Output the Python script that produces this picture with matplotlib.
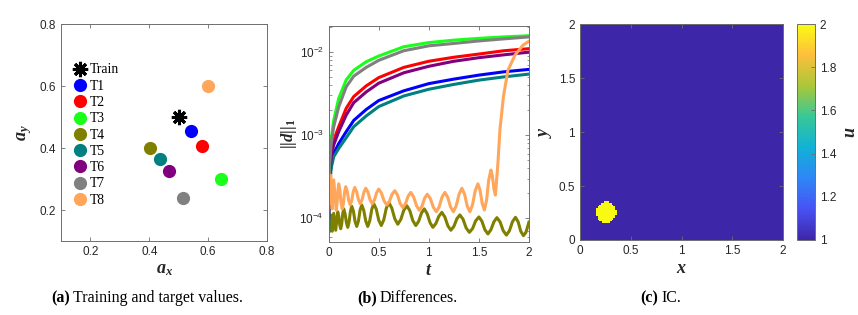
import matplotlib
matplotlib.use("Agg")
import matplotlib.pyplot as plt
import numpy as np
from matplotlib.colors import LinearSegmentedColormap

plt.rcParams["font.family"] = "Liberation Sans"
plt.rcParams["mathtext.fontset"] = "custom"
plt.rcParams["mathtext.it"] = "Liberation Serif:italic:bold"
plt.rcParams["mathtext.rm"] = "Liberation Serif:bold"
plt.rcParams["mathtext.bf"] = "Liberation Serif:bold"

TEXT_C = "#262626"
FRAME_C = "#6e6e6e"

# ---- panel (a): training / target parameter values
train_point = (0.50, 0.50)
target_names = ["T1", "T2", "T3", "T4", "T5", "T6", "T7", "T8"]
target_ax = [0.542, 0.580, 0.642, 0.402, 0.436, 0.466, 0.515, 0.600]
target_ay = [0.455, 0.406, 0.299, 0.401, 0.363, 0.325, 0.239, 0.601]
target_colors = ["#0000ff", "#ff0000", "#19ff19", "#808000",
                 "#008080", "#800080", "#808080", "#ffa65a"]

# ---- panel (b): differences ||d||_1 over time
t_smooth = [0, 0.01, 0.025, 0.05, 0.1, 0.175, 0.25, 0.375, 0.5,
            0.75, 1.0, 1.25, 1.5, 1.75, 2.0]
d_T1 = [1.5e-4, 3.0e-4, 4.5e-4, 6.0e-4, 7.9e-4, 1.1e-3, 1.5e-3, 2.03e-3, 2.6e-3,
        3.4e-3, 4.15e-3, 4.7e-3, 5.25e-3, 5.75e-3, 6.15e-3]
d_T2 = [1.2e-4, 3.5e-4, 6.0e-4, 8.7e-4, 1.26e-3, 2.1e-3, 2.9e-3, 3.9e-3, 4.9e-3,
        6.5e-3, 7.7e-3, 8.6e-3, 9.4e-3, 1.03e-2, 1.09e-2]
d_T3 = [1.2e-4, 5.0e-4, 9.0e-4, 1.5e-3, 2.76e-3, 4.6e-3, 6.0e-3, 7.6e-3, 8.9e-3,
        1.15e-2, 1.29e-2, 1.38e-2, 1.45e-2, 1.51e-2, 1.56e-2]
d_T5 = [7.0e-5, 2.5e-4, 4.0e-4, 5.5e-4, 6.9e-4, 9.3e-4, 1.26e-3, 1.7e-3, 2.2e-3,
        2.95e-3, 3.55e-3, 4.06e-3, 4.57e-3, 5.0e-3, 5.4e-3]
d_T6 = [1.0e-4, 3.2e-4, 5.5e-4, 7.6e-4, 1.1e-3, 1.74e-3, 2.45e-3, 3.3e-3, 4.2e-3,
        5.6e-3, 6.7e-3, 7.7e-3, 8.5e-3, 9.2e-3, 9.9e-3]
d_T7 = [1.2e-4, 4.5e-4, 8.0e-4, 1.26e-3, 2.18e-3, 3.8e-3, 5.1e-3, 6.5e-3, 7.9e-3,
        1.03e-2, 1.18e-2, 1.26e-2, 1.35e-2, 1.43e-2, 1.51e-2]

t_T4 = [0.0, 0.01, 0.02, 0.035, 0.05, 0.07, 0.09, 0.10, 0.11, 0.12, 0.13, 0.14,
        0.15, 0.163, 0.177, 0.19, 0.203, 0.217, 0.23, 0.247, 0.263, 0.28, 0.297,
        0.313, 0.33, 0.35, 0.37, 0.39, 0.41, 0.43, 0.45, 0.475, 0.5, 0.525, 0.55,
        0.575, 0.6, 0.63, 0.66, 0.69, 0.72, 0.75, 0.78, 0.81, 0.84, 0.87, 0.898,
        0.927, 0.955, 0.983, 1.012, 1.04, 1.07, 1.10, 1.13, 1.16, 1.19, 1.22, 1.25,
        1.28, 1.31, 1.342, 1.373, 1.405, 1.437, 1.468, 1.5, 1.53, 1.56, 1.59, 1.62,
        1.65, 1.68, 1.712, 1.743, 1.775, 1.805, 1.835, 1.865, 1.892, 1.918, 1.945,
        1.97, 2.0]
d_T4 = [9.0e-5, 7.0e-5, 1.1e-4, 7.0e-5, 1.15e-4, 7.2e-5, 1.2e-4, 1.07e-4, 8.4e-5,
        7.5e-5, 8.6e-5, 1.13e-4, 1.3e-4, 1.14e-4, 8.9e-5, 7.8e-5, 9.0e-5, 1.21e-4,
        1.4e-4, 1.22e-4, 9.2e-5, 8.0e-5, 9.3e-5, 1.25e-4, 1.45e-4, 1.25e-4, 9.3e-5,
        8.0e-5, 9.35e-5, 1.28e-4, 1.5e-4, 1.29e-4, 9.5e-5, 8.2e-5, 9.6e-5, 1.32e-4,
        1.55e-4, 1.33e-4, 9.9e-5, 8.5e-5, 9.7e-5, 1.25e-4, 1.42e-4, 1.24e-4, 9.4e-5,
        8.2e-5, 9.2e-5, 1.16e-4, 1.3e-4, 1.14e-4, 8.9e-5, 7.8e-5, 8.65e-5, 1.06e-4,
        1.18e-4, 1.04e-4, 8.15e-5, 7.2e-5, 8.0e-5, 9.9e-5, 1.1e-4, 9.75e-5, 7.65e-5,
        6.8e-5, 7.55e-5, 9.35e-5, 1.04e-4, 9.25e-5, 7.3e-5, 6.5e-5, 7.3e-5, 9.1e-5,
        1.02e-4, 9.05e-5, 7.1e-5, 6.3e-5, 7.1e-5, 9.1e-5, 1.03e-4, 9.1e-5, 7.0e-5,
        6.2e-5, 6.8e-5, 9.0e-5]

t_T8 = [0.0, 0.008, 0.02, 0.035, 0.05, 0.075, 0.083, 0.092, 0.1, 0.112, 0.123,
        0.135, 0.147, 0.158, 0.17, 0.185, 0.2, 0.215, 0.23, 0.245, 0.26, 0.278,
        0.297, 0.315, 0.333, 0.352, 0.37, 0.392, 0.413, 0.435, 0.457, 0.478, 0.5,
        0.527, 0.553, 0.58, 0.607, 0.633, 0.66, 0.687, 0.713, 0.74, 0.767, 0.793,
        0.82, 0.848, 0.877, 0.905, 0.932, 0.958, 0.985, 1.015, 1.045, 1.075, 1.103,
        1.132, 1.16, 1.188, 1.217, 1.245, 1.273, 1.302, 1.33, 1.357, 1.383, 1.41,
        1.437, 1.463, 1.49, 1.512, 1.533, 1.555, 1.577, 1.598, 1.62, 1.635, 1.65,
        1.665, 1.69, 1.71, 1.745, 1.79, 1.86, 1.94, 2.0]
d_T8 = [3.0e-4, 1.5e-4, 3.3e-4, 1.3e-4, 2.9e-4, 1.25e-4, 1.5e-4, 2.16e-4, 2.6e-4,
        2.19e-4, 1.55e-4, 1.3e-4, 1.51e-4, 2.06e-4, 2.4e-4, 2.11e-4, 1.64e-4,
        1.45e-4, 1.63e-4, 2.08e-4, 2.35e-4, 2.1e-4, 1.68e-4, 1.5e-4, 1.67e-4,
        2.07e-4, 2.3e-4, 2.07e-4, 1.67e-4, 1.5e-4, 1.66e-4, 2.03e-4, 2.25e-4,
        2.01e-4, 1.62e-4, 1.45e-4, 1.6e-4, 1.95e-4, 2.15e-4, 1.91e-4, 1.51e-4,
        1.35e-4, 1.5e-4, 1.85e-4, 2.05e-4, 1.81e-4, 1.42e-4, 1.25e-4, 1.4e-4,
        1.75e-4, 1.95e-4, 1.73e-4, 1.36e-4, 1.2e-4, 1.37e-4, 1.8e-4, 2.05e-4,
        1.8e-4, 1.37e-4, 1.2e-4, 1.41e-4, 1.95e-4, 2.3e-4, 1.95e-4, 1.41e-4,
        1.2e-4, 1.46e-4, 2.14e-4, 2.6e-4, 2.17e-4, 1.51e-4, 1.26e-4, 1.66e-4,
        2.88e-4, 3.8e-4, 3.2e-4, 2.26e-4, 1.9e-4, 4.6e-4, 1.15e-3, 2.9e-3,
        6.0e-3, 9.1e-3, 1.2e-2, 1.34e-2]

# ---- panel (c): initial condition, a disc of u=2 on a u=1 background
grid_n = 128
domain = (0.0, 2.0)
disc_center = (0.25, 0.25)
disc_radius = 0.1
u_background = 1.0
u_disc = 2.0
cbar_ticks = [1, 1.2, 1.4, 1.6, 1.8, 2]

parula_pts = [
    (0.2422, 0.1504, 0.6603), (0.2810, 0.3228, 0.9579), (0.1786, 0.5289, 0.9682),
    (0.0689, 0.6948, 0.8394), (0.2161, 0.7843, 0.5923), (0.6720, 0.7793, 0.2227),
    (0.9906, 0.7482, 0.2338), (0.9769, 0.9839, 0.0805),
]
parula = LinearSegmentedColormap.from_list("parula", parula_pts)

TICK_FS = 8.5


def style_axes(ax):
    for sp in ax.spines.values():
        sp.set_color(FRAME_C)
        sp.set_linewidth(0.7)
    ax.tick_params(direction="in", top=True, right=True, labelsize=TICK_FS,
                   colors=FRAME_C, labelcolor=TEXT_C, length=3, width=0.6)
    ax.tick_params(which="minor", direction="in", top=True, right=True,
                   colors=FRAME_C, length=1.8, width=0.5)


fig = plt.figure(figsize=(8.58, 3.15), dpi=100)

# (a)
ax1 = fig.add_axes([0.0711, 0.2349, 0.2401, 0.6889])
ax1.plot(*train_point, linestyle="none", marker=(8, 2, 0), color="k",
         markersize=11, markeredgewidth=2.2, label="Train")
for name, x, y, c in zip(target_names, target_ax, target_ay, target_colors):
    ax1.plot(x, y, linestyle="none", marker="o", color=c, markersize=9.5,
             markeredgewidth=0, label=name)
ax1.set_xlim(0.1, 0.8)
ax1.set_ylim(0.1, 0.8)
ax1.set_xticks([0.2, 0.4, 0.6, 0.8])
ax1.set_yticks([0.2, 0.4, 0.6, 0.8])
ax1.set_xlabel("$a_x$", fontsize=13, color=TEXT_C, labelpad=2)
ax1.set_ylabel("$a_y$", fontsize=13, color=TEXT_C, labelpad=4)
style_axes(ax1)
ax1.legend(loc="upper left", bbox_to_anchor=(0.066, 0.818), frameon=False,
           handlelength=0.8, handletextpad=0.3, labelspacing=0.24,
           borderpad=0, borderaxespad=0,
           prop={"family": "Liberation Serif", "size": 9.8})

# (b)
ax2 = fig.add_axes([0.3831, 0.2317, 0.2334, 0.6857])
lw = 2.2
ax2.plot(t_smooth, d_T1, color=target_colors[0], lw=lw)
ax2.plot(t_smooth, d_T2, color=target_colors[1], lw=lw)
ax2.plot(t_smooth, d_T3, color=target_colors[2], lw=lw)
ax2.plot(t_T4, d_T4, color=target_colors[3], lw=lw, solid_joinstyle="round")
ax2.plot(t_smooth, d_T5, color=target_colors[4], lw=lw)
ax2.plot(t_smooth, d_T6, color=target_colors[5], lw=lw)
ax2.plot(t_smooth, d_T7, color=target_colors[6], lw=lw)
ax2.plot(t_T8, d_T8, color=target_colors[7], lw=lw, solid_joinstyle="round")
ax2.set_yscale("log")
ax2.set_xlim(0, 2)
ax2.set_ylim(5.2e-5, 2.04e-2)
ax2.set_xticks([0, 0.5, 1, 1.5, 2])
ax2.set_xticklabels(["0", "0.5", "1", "1.5", "2"])
ax2.set_xlabel("$t$", fontsize=13, color=TEXT_C, labelpad=2)
ax2.set_ylabel("$||d||_1$", fontsize=12, color=TEXT_C, labelpad=0)
style_axes(ax2)

# (c)
edges = np.linspace(domain[0], domain[1], grid_n)
gx, gy = np.meshgrid(edges, edges)
inside = (gx - disc_center[0]) ** 2 + (gy - disc_center[1]) ** 2 <= disc_radius ** 2
u0 = np.where(inside, u_disc, u_background)
ax3 = fig.add_axes([0.676, 0.2381, 0.2366, 0.6848])
im = ax3.imshow(u0, origin="lower", extent=[0, 2, 0, 2], cmap=parula,
                vmin=1, vmax=2, aspect="auto", interpolation="nearest")
ax3.set_xticks([0, 0.5, 1, 1.5, 2])
ax3.set_yticks([0, 0.5, 1, 1.5, 2])
ax3.set_xticklabels(["0", "0.5", "1", "1.5", "2"])
ax3.set_yticklabels(["0", "0.5", "1", "1.5", "2"])
ax3.set_xlabel("$x$", fontsize=13, color=TEXT_C, labelpad=2)
ax3.set_ylabel("$y$", fontsize=13, color=TEXT_C, labelpad=3)
style_axes(ax3)

cax = fig.add_axes([0.9289, 0.2381, 0.021, 0.6857])
cb = fig.colorbar(im, cax=cax, ticks=cbar_ticks)
cb.ax.set_yticklabels(["1", "1.2", "1.4", "1.6", "1.8", "2"])
cb.outline.set_edgecolor(FRAME_C)
cb.outline.set_linewidth(0.7)
cb.ax.tick_params(direction="in", labelsize=TICK_FS, colors=FRAME_C,
                  labelcolor=TEXT_C, length=3, width=0.6)
cb.set_label("$u$", fontsize=13, color=TEXT_C, labelpad=4)

# captions
cap = {"family": "Liberation Serif", "size": 11.5}
captions = [(70, "(a)", "Training and target values."),
            (377, "(b)", "Differences."),
            (658, "(c)", "IC.")]
for xpx, tag, rest in captions:
    fig.text(xpx / 858, 1 - 298 / 315, tag, ha="right", va="center",
             fontweight="bold", **cap)
    fig.text((xpx + 3) / 858, 1 - 298 / 315, rest, ha="left", va="center", **cap)

fig.savefig("out.png", dpi=100)
